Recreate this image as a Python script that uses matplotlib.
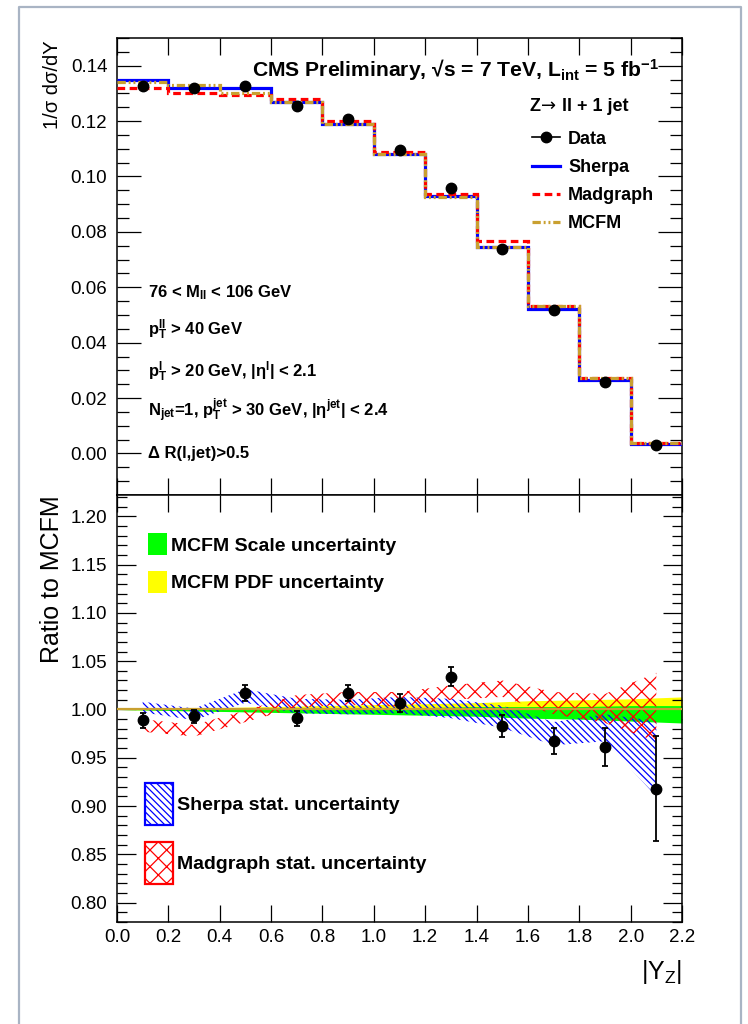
import numpy as np
import matplotlib
matplotlib.use('Agg')
import matplotlib.pyplot as plt
from matplotlib.lines import Line2D
from matplotlib.patches import Patch
from matplotlib.ticker import MultipleLocator, FormatStrFormatter

plt.rcParams['font.family'] = ['Liberation Sans', 'DejaVu Sans']
plt.rcParams['mathtext.fontset'] = 'custom'
plt.rcParams['mathtext.rm'] = 'Liberation Sans'
plt.rcParams['mathtext.bf'] = 'Liberation Sans:bold'
plt.rcParams['mathtext.it'] = 'Liberation Sans:italic'
plt.rcParams['hatch.linewidth'] = 0.9

# |Y_Z| binning
edges = [0.0, 0.2, 0.4, 0.6, 0.8, 1.0, 1.2, 1.4, 1.6, 1.8, 2.0, 2.2]
centers = [0.1, 0.3, 0.5, 0.7, 0.9, 1.1, 1.3, 1.5, 1.7, 1.9, 2.1]

# 1/sigma dsigma/dY
data = [0.1327, 0.1321, 0.1327, 0.1256, 0.1208, 0.1094, 0.0958, 0.0738, 0.0518, 0.0258, 0.0030]
sherpa = [0.1347, 0.1320, 0.1320, 0.1268, 0.1191, 0.1082, 0.0929, 0.0747, 0.0522, 0.0264, 0.0033]
madgraph = [0.1318, 0.1302, 0.1296, 0.1278, 0.1202, 0.1088, 0.0935, 0.0767, 0.0534, 0.0272, 0.0036]
mcfm = [0.1341, 0.1332, 0.1302, 0.1268, 0.1188, 0.1082, 0.0926, 0.0747, 0.0534, 0.0272, 0.0036]

# ratio to MCFM
ratio_data = [0.989, 0.993, 1.017, 0.991, 1.017, 1.007, 1.034, 0.983, 0.967, 0.961, 0.918]
ratio_err = [0.0077, 0.0068, 0.0083, 0.0078, 0.0083, 0.0095, 0.0099, 0.0114, 0.0134, 0.0197, 0.0545]

sherpa_hi = [1.008, 1.001, 1.021, 1.011, 1.010, 1.013, 1.011, 1.004, 0.987, 0.995, 0.988]
sherpa_lo = [0.997, 0.989, 1.007, 0.996, 0.995, 0.996, 0.991, 0.981, 0.963, 0.967, 0.910]
madgraph_hi = [0.990, 0.984, 0.999, 1.015, 1.018, 1.018, 1.025, 1.030, 1.018, 1.016, 1.038]
madgraph_lo = [0.977, 0.972, 0.987, 1.002, 1.005, 1.003, 1.010, 1.013, 0.995, 0.986, 0.967]

# MCFM uncertainty bands, at the bin edges
pdf_hi = [1.000, 1.001, 1.002, 1.003, 1.004, 1.005, 1.006, 1.007, 1.009, 1.010, 1.011, 1.013]
pdf_lo = [1.000, 0.999, 0.998, 0.998, 0.997, 0.996, 0.995, 0.994, 0.994, 0.993, 0.992, 0.991]
scale_hi = [1.000, 1.000, 1.001, 1.001, 1.001, 1.002, 1.002, 1.003, 1.003, 1.003, 1.004, 1.004]
scale_lo = [1.000, 0.999, 0.998, 0.997, 0.996, 0.995, 0.994, 0.993, 0.991, 0.990, 0.988, 0.986]

BLUE = '#0000ff'
RED = '#ff0000'
GOLD = '#c9a030'
SHERPA_HATCH = '\\' * 5
MADGRAPH_HATCH = 'xx'

W, H = 748, 1024
fig = plt.figure(figsize=(W / 100, H / 100), dpi=100)


def fx(px):
    return px / W


def fy(py):
    return 1 - py / H


ax1 = fig.add_axes([fx(117), fy(495), fx(682) - fx(117), fy(38) - fy(495)])
ax2 = fig.add_axes([fx(117), fy(922), fx(682) - fx(117), fy(495) - fy(922)])

# ---- upper panel
ax1.stairs(sherpa, edges, baseline=None, color=BLUE, lw=2.3, zorder=3)
ax1.stairs(madgraph, edges, baseline=None, color=RED, lw=2.3,
           linestyle=(0, (2.4, 1.4)), zorder=4)
ax1.stairs(mcfm, edges, baseline=None, color=GOLD, lw=2.3,
           linestyle=(0, (2.6, 0.9, 0.6, 0.9, 0.6, 0.9)), zorder=5)
ax1.plot(centers, data, 'o', color='k', ms=7.5, zorder=6)

ax1.set_xlim(0, 2.2)
ax1.set_ylim(-0.015, 0.15)
ax1.yaxis.set_major_locator(MultipleLocator(0.02))
ax1.yaxis.set_minor_locator(MultipleLocator(0.005))
ax1.yaxis.set_major_formatter(FormatStrFormatter('%.2f'))
ax1.xaxis.set_major_locator(MultipleLocator(0.2))
ax1.tick_params(axis='both', which='both', direction='in', top=True, right=True,
                labelbottom=False, labelsize=13.5, width=0.9, pad=7)
ax1.tick_params(axis='y', which='major', length=17)
ax1.tick_params(axis='y', which='minor', length=8.5)
ax1.tick_params(axis='x', which='major', length=12)

handles = [
    Line2D([], [], color='k', marker='o', ms=7.5, lw=1.2),
    Line2D([], [], color=BLUE, lw=2.3),
    Line2D([], [], color=RED, lw=2.3, linestyle=(0, (2.4, 1.4))),
    Line2D([], [], color=GOLD, lw=2.3, linestyle=(0, (2.6, 0.9, 0.6, 0.9, 0.6, 0.9))),
]
ax1.legend(handles, ['Data', 'Sherpa', 'Madgraph', 'MCFM'],
           loc='upper left', bbox_to_anchor=(fx(532 - 117) / (fx(682) - fx(117)), 0.797),
           frameon=False, prop={'weight': 'bold', 'size': 13},
           handlelength=1.55, handletextpad=0.45, labelspacing=0.62,
           borderpad=0, borderaxespad=0)

fig.text(fx(659), fy(77), 'CMS Preliminary, \u221as = 7 TeV, L$_{\\mathbf{int}}$ = 5 fb$^{\\mathbf{-1}}$',
         ha='right', va='baseline', fontsize=15.2, fontweight='bold')
# "Z-> ll + 1 jet": the arrow is taken from DejaVu Sans
fig.text(fx(530), fy(111), 'Z', ha='left', va='baseline', fontsize=13, fontweight='bold')
fig.text(fx(541), fy(111), '\u2192', ha='left', va='baseline', fontsize=13,
         family='DejaVu Sans')
fig.text(fx(562), fy(111), 'll + 1 jet', ha='left', va='baseline',
         fontsize=13, fontweight='bold')

cuts = [
    (297, '76 < M$_{\\mathbf{ll}}$ < 106 GeV'),
    (335, 'p$_{\\mathbf{T}}^{\\mathbf{ll}}$ > 40 GeV'),
    (377, 'p$_{\\mathbf{T}}^{\\mathbf{l}}$ > 20 GeV, |\u03b7$^{\\mathbf{l}}$| < 2.1'),
    (417, 'N$_{\\mathbf{jet}}$=1, p$_{\\mathbf{T}}^{\\mathbf{jet}}$ > 30 GeV, |\u03b7$^{\\mathbf{jet}}$| < 2.4'),
    (458, '\u0394 R(l,jet)>0.5'),
]
for ypix, txt in cuts:
    fig.text(fx(148), fy(ypix), txt, ha='left', va='baseline', fontsize=12, fontweight='bold')

fig.text(fx(52), fy(40), '1/\u03c3 d\u03c3/dY', rotation=90, ha='center', va='top', fontsize=14.5)

# ---- lower panel
ax2.fill_between(edges, pdf_lo, pdf_hi, color='#ffff00', lw=0, zorder=1)
ax2.fill_between(edges, scale_lo, scale_hi, color='#00ff00', lw=0, zorder=2)
ax2.fill_between(centers, sherpa_lo, sherpa_hi, facecolor='none', edgecolor=BLUE,
                 hatch=SHERPA_HATCH, lw=0, zorder=3)
ax2.fill_between(centers, madgraph_lo, madgraph_hi, facecolor='none', edgecolor=RED,
                 hatch=MADGRAPH_HATCH, lw=0, zorder=4)
ax2.axhline(1.0, color=GOLD, lw=1.6, zorder=5)
ax2.errorbar(centers, ratio_data, yerr=ratio_err, fmt='o', color='k', ms=7.5,
             elinewidth=1.3, capsize=2.5, capthick=1.3, zorder=6)

ax2.set_xlim(0, 2.2)
ax2.set_ylim(0.78, 1.222)
ax2.yaxis.set_major_locator(MultipleLocator(0.05))
ax2.yaxis.set_minor_locator(MultipleLocator(0.01))
ax2.yaxis.set_major_formatter(FormatStrFormatter('%.2f'))
ax2.xaxis.set_major_locator(MultipleLocator(0.2))
ax2.xaxis.set_major_formatter(FormatStrFormatter('%.1f'))
ax2.tick_params(axis='both', which='both', direction='in', top=True, right=True,
                labelsize=13.5, width=0.9)
ax2.tick_params(axis='y', which='major', length=13.5, pad=7)
ax2.tick_params(axis='y', which='minor', length=7)
ax2.tick_params(axis='x', which='major', length=12, pad=5)

for ax in (ax1, ax2):
    for sp in ax.spines.values():
        sp.set_linewidth(1.1)

leg2 = ax2.legend([Patch(facecolor='#00ff00', lw=0), Patch(facecolor='#ffff00', lw=0)],
                  ['MCFM Scale uncertainty', 'MCFM PDF uncertainty'],
                  loc='upper left', bbox_to_anchor=(fx(148 - 117) / (fx(682) - fx(117)), 0.91),
                  frameon=False, prop={'weight': 'bold', 'size': 14},
                  handlelength=1.0, handleheight=1.35, handletextpad=0.2,
                  labelspacing=0.8, borderpad=0, borderaxespad=0)
ax2.add_artist(leg2)
ax2.legend([Patch(facecolor='white', edgecolor=BLUE, hatch=SHERPA_HATCH, lw=1.6),
            Patch(facecolor='white', edgecolor=RED, hatch=MADGRAPH_HATCH, lw=1.6)],
           ['Sherpa stat. uncertainty', 'Madgraph stat. uncertainty'],
           loc='upper left', bbox_to_anchor=(fx(145 - 117) / (fx(682) - fx(117)), 0.325),
           frameon=False, prop={'weight': 'bold', 'size': 14},
           handlelength=1.45, handleheight=2.95, handletextpad=0.2,
           labelspacing=0.85, borderpad=0, borderaxespad=0)

fig.text(fx(52), fy(495), 'Ratio to MCFM', rotation=90, ha='center', va='top', fontsize=18)
fig.text(fx(682), fy(958), '|Y$_{\\mathrm{Z}}$|', ha='right', va='top', fontsize=18)

# canvas frame
fig.add_artist(Line2D([fx(19), fx(19), fx(741), fx(741)], [0, fy(7), fy(7), 0],
                      color='#a9b4c4', lw=1.6))

fig.savefig('out.png', dpi=100)
